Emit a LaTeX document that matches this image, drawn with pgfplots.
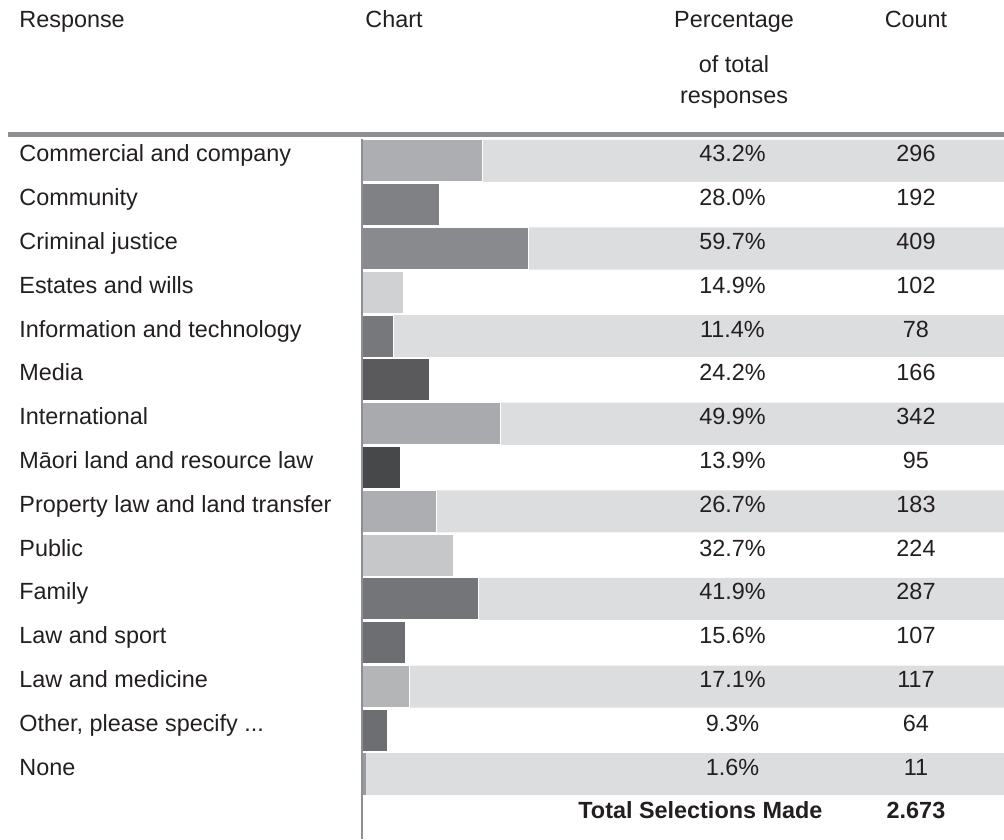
\documentclass[border=0pt]{standalone}
\usepackage{pgfplots}
\pgfplotsset{compat=1.18}
\usepackage{pgfplotstable}
\usepackage{fontspec}
\setmainfont{Liberation Sans}
\newcommand\threedots{...}
\newcommand\tfont{\fontsize{11.7}{14}\selectfont}
\definecolor{txt}{HTML}{231F20}
\definecolor{rule}{HTML}{8E8F92}
\definecolor{bg}{HTML}{DCDDDF}
\definecolor{c1}{HTML}{ADAEB1}
\definecolor{c2}{HTML}{808185}
\definecolor{c3}{HTML}{898A8E}
\definecolor{c4}{HTML}{D0D1D3}
\definecolor{c5}{HTML}{77787B}
\definecolor{c6}{HTML}{5A5A5D}
\definecolor{c7}{HTML}{A9AAAD}
\definecolor{c8}{HTML}{474849}
\definecolor{c9}{HTML}{ADAEB1}
\definecolor{c10}{HTML}{C6C7C8}
\definecolor{c11}{HTML}{747579}
\definecolor{c12}{HTML}{6D6E71}
\definecolor{c13}{HTML}{B4B5B7}
\definecolor{c14}{HTML}{6D6E71}
\definecolor{c15}{HTML}{9A9B9E}
\pgfplotstableread{
row pct count pcx cntx
1 43.2 296 133.0 198.9
2 28.0 192 133.0 198.9
3 59.7 409 133.0 198.9
4 14.9 102 133.0 198.9
5 11.4 78 133.0 198.9
6 24.2 166 133.0 198.9
7 49.9 342 133.0 198.9
8 13.9 95 133.0 198.9
9 26.7 183 133.0 198.9
10 32.7 224 133.0 198.9
11 41.9 287 133.0 198.9
12 15.6 107 133.0 198.9
13 17.1 117 133.0 198.9
14 9.3 64 133.0 198.9
15 1.6 11 133.0 198.9
}\datatable
\begin{document}
\begin{tikzpicture}[every node/.style={text=txt}, font=\tfont]
\useasboundingbox (0,0) rectangle (502pt,419.5pt);
% headers
\node[anchor=base west, inner sep=0pt] at (9.5pt,405.5pt) {Response};
\node[anchor=base west, inner sep=0pt] at (182.5pt,405.5pt) {Chart};
\node[anchor=base, inner sep=0pt] at (367pt,405.5pt) {Percentage};
\node[anchor=base, inner sep=0pt] at (367pt,383pt) {of total};
\node[anchor=base, inner sep=0pt] at (367pt,367.5pt) {responses};
\node[anchor=base, inner sep=0pt] at (458pt,405.5pt) {Count};
\draw[rule, line width=2.5pt] (4pt,352.25pt) -- (502pt,352.25pt);
\begin{axis}[
  at={(181pt,0pt)}, anchor=south west,
  scale only axis, width=321pt, height=350pt,
  xmin=0, xmax=230.5, ymin=0.5, ymax=16.48,
  y dir=reverse,
  axis x line=none, axis y line*=left,
  axis line style={rule, line width=1.2pt, -},
  axis on top=true,
  ytick={1,2,3,4,5,6,7,8,9,10,11,12,13,14,15},
  yticklabels={Commercial and company, Community, Criminal justice, Estates and wills, Information and technology, Media, International, Māori land and resource law, Property law and land transfer, Public, Family, Law and sport, Law and medicine, {Other, please specify \threedots}, None},
  major tick length=0pt,
  yticklabel style={anchor=base west, xshift=-171.5pt, yshift=-0.5pt, inner sep=0pt, text=txt, font=\tfont},
  clip=false,
]
% background stripes
\addplot[xbar, bar width=0.96, bar shift=0pt, fill=bg, draw=none] coordinates {(230.5,1) (230.5,3) (230.5,5) (230.5,7) (230.5,9) (230.5,11) (230.5,13) (230.5,15)};
% bars
\addplot[xbar, bar width=0.96, bar shift=0pt, fill=c1, draw=white, line width=0.5pt] coordinates {(43.2,1)};
\addplot[xbar, bar width=0.96, bar shift=0pt, fill=c2, draw=white, line width=0.5pt] coordinates {(28.0,2)};
\addplot[xbar, bar width=0.96, bar shift=0pt, fill=c3, draw=white, line width=0.5pt] coordinates {(59.7,3)};
\addplot[xbar, bar width=0.96, bar shift=0pt, fill=c4, draw=white, line width=0.5pt] coordinates {(14.9,4)};
\addplot[xbar, bar width=0.96, bar shift=0pt, fill=c5, draw=white, line width=0.5pt] coordinates {(11.4,5)};
\addplot[xbar, bar width=0.96, bar shift=0pt, fill=c6, draw=white, line width=0.5pt] coordinates {(24.2,6)};
\addplot[xbar, bar width=0.96, bar shift=0pt, fill=c7, draw=white, line width=0.5pt] coordinates {(49.9,7)};
\addplot[xbar, bar width=0.96, bar shift=0pt, fill=c8, draw=white, line width=0.5pt] coordinates {(13.9,8)};
\addplot[xbar, bar width=0.96, bar shift=0pt, fill=c9, draw=white, line width=0.5pt] coordinates {(26.7,9)};
\addplot[xbar, bar width=0.96, bar shift=0pt, fill=c10, draw=white, line width=0.5pt] coordinates {(32.7,10)};
\addplot[xbar, bar width=0.96, bar shift=0pt, fill=c11, draw=white, line width=0.5pt] coordinates {(41.9,11)};
\addplot[xbar, bar width=0.96, bar shift=0pt, fill=c12, draw=white, line width=0.5pt] coordinates {(15.6,12)};
\addplot[xbar, bar width=0.96, bar shift=0pt, fill=c13, draw=white, line width=0.5pt] coordinates {(17.1,13)};
\addplot[xbar, bar width=0.96, bar shift=0pt, fill=c14, draw=white, line width=0.5pt] coordinates {(9.3,14)};
\addplot[xbar, bar width=0.96, bar shift=0pt, fill=c15, draw=none] coordinates {(1.6,15)};
% percentage column
\addplot[draw=none, mark=none, point meta=explicit,
  nodes near coords={\pgfmathprintnumber[fixed,fixed zerofill,precision=1,assume math mode=true]{\pgfplotspointmeta}\%},
  every node near coord/.append style={anchor=base, yshift=-0.5pt, inner sep=0pt, text=txt, font=\tfont}]
  table[x=pcx, y=row, meta=pct] {\datatable};
% count column
\addplot[draw=none, mark=none, point meta=explicit,
  nodes near coords={\pgfmathprintnumber[fixed,precision=0,assume math mode=true]{\pgfplotspointmeta}},
  every node near coord/.append style={anchor=base, yshift=-0.5pt, inner sep=0pt, text=txt, font=\tfont}]
  table[x=cntx, y=row, meta=count] {\datatable};
% total row
\addplot[draw=none, mark=none, point meta=explicit symbolic,
  nodes near coords,
  every node near coord/.append style={anchor=base, yshift=-0.5pt, inner sep=0pt, text=txt, font=\tfont\bfseries}]
  coordinates {(121.5,16) [Total Selections Made] (198.9,16) [2.673]};
\end{axis}
\end{tikzpicture}
\end{document}
